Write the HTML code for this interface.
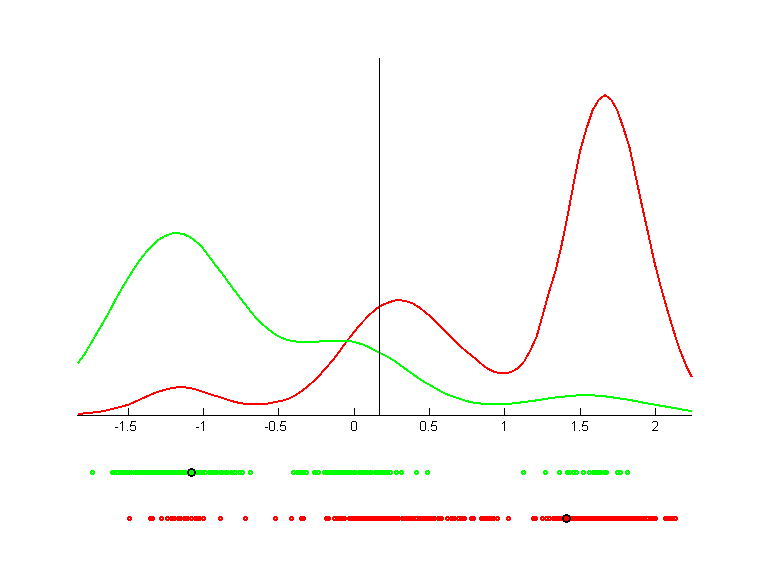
<!DOCTYPE html>
<html><head><meta charset="utf-8"><style>
html,body{margin:0;padding:0;background:#fff;}
body{width:768px;height:576px;overflow:hidden;}
svg{display:block;}
</style></head><body>
<svg width="768" height="576" viewBox="0 0 768 576" role="img" aria-label="Kernel density curves (green and red) with x-axis ticks -1.5, -1, -0.5, 0, 0.5, 1, 1.5, 2 and sample points below">
<rect width="768" height="576" fill="#fff"/>
<path d="M77.80 413.77 L84.00 413.47 L90.20 412.85 L96.41 412.11 L102.61 411.26 L108.81 409.82 L115.01 408.24 L121.21 406.67 L127.42 405.03 L133.62 402.53 L139.82 399.50 L146.02 396.78 L152.22 394.00 L158.43 391.69 L164.63 389.86 L170.83 388.37 L177.03 387.36 L183.23 387.20 L189.44 387.96 L195.64 389.27 L201.84 391.42 L208.04 393.51 L214.24 395.50 L220.45 397.31 L226.65 399.42 L232.85 401.33 L239.05 402.89 L245.25 403.90 L251.46 404.36 L257.66 404.42 L263.86 404.22 L270.06 403.13 L276.26 401.95 L282.47 400.58 L288.67 398.54 L294.87 395.52 L301.07 391.40 L307.27 386.89 L313.48 381.20 L319.68 375.11 L325.88 367.91 L332.08 361.19 L338.28 353.08 L344.49 344.35 L350.69 336.34 L356.89 328.51 L363.09 321.40 L369.29 315.07 L375.50 309.30 L381.70 305.36 L387.90 302.67 L394.10 300.61 L400.31 300.15 L406.51 301.24 L412.71 303.30 L418.91 307.23 L425.11 312.02 L431.32 317.36 L437.52 323.17 L443.72 329.42 L449.92 335.52 L456.12 342.01 L462.33 348.01 L468.53 353.18 L474.73 358.16 L480.93 363.56 L487.13 368.31 L493.34 371.53 L499.54 373.08 L505.74 373.40 L511.94 371.55 L518.14 368.03 L524.35 361.11 L530.55 349.99 L536.75 336.23 L542.95 314.09 L549.15 291.74 L555.36 271.57 L561.56 245.31 L567.76 214.67 L573.96 182.05 L580.16 150.85 L586.37 128.76 L592.57 110.39 L598.77 99.72 L604.97 95.21 L611.17 99.48 L617.38 110.57 L623.58 128.40 L629.78 148.36 L635.98 177.89 L642.18 206.56 L648.39 234.54 L654.59 262.88 L660.79 286.77 L666.99 308.68 L673.19 329.41 L679.40 348.83 L685.60 364.40 L691.80 377.30" fill="none" stroke="#ff0000" stroke-width="2" stroke-linejoin="round" shape-rendering="crispEdges"/>
<path d="M77.80 363.18 L84.00 355.10 L90.20 344.69 L96.41 333.88 L102.61 323.61 L108.81 312.58 L115.01 300.66 L121.21 289.60 L127.42 279.32 L133.62 269.33 L139.82 260.12 L146.02 252.25 L152.22 245.43 L158.43 239.74 L164.63 236.21 L170.83 233.66 L177.03 233.00 L183.23 234.06 L189.44 236.67 L195.64 241.12 L201.84 246.94 L208.04 254.90 L214.24 263.58 L220.45 271.34 L226.65 279.64 L232.85 288.36 L239.05 296.34 L245.25 304.49 L251.46 312.64 L257.66 319.56 L263.86 325.45 L270.06 330.61 L276.26 335.16 L282.47 338.20 L288.67 340.35 L294.87 341.41 L301.07 341.92 L307.27 341.99 L313.48 341.74 L319.68 341.46 L325.88 341.09 L332.08 340.78 L338.28 340.80 L344.49 340.68 L350.69 341.25 L356.89 342.73 L363.09 344.54 L369.29 347.39 L375.50 350.84 L381.70 353.73 L387.90 356.89 L394.10 360.65 L400.31 365.29 L406.51 369.73 L412.71 374.08 L418.91 378.32 L425.11 382.46 L431.32 385.89 L437.52 389.46 L443.72 392.99 L449.92 395.40 L456.12 397.63 L462.33 399.70 L468.53 401.51 L474.73 402.80 L480.93 403.55 L487.13 403.99 L493.34 404.21 L499.54 404.22 L505.74 404.00 L511.94 403.54 L518.14 402.87 L524.35 401.93 L530.55 401.18 L536.75 400.34 L542.95 399.31 L549.15 398.34 L555.36 397.51 L561.56 396.91 L567.76 396.23 L573.96 395.61 L580.16 395.31 L586.37 395.20 L592.57 395.37 L598.77 395.73 L604.97 396.30 L611.17 397.15 L617.38 398.11 L623.58 399.02 L629.78 399.99 L635.98 401.16 L642.18 402.43 L648.39 403.58 L654.59 404.67 L660.79 405.73 L666.99 406.76 L673.19 407.86 L679.40 409.02 L685.60 410.13 L691.80 411.00" fill="none" stroke="#00ff00" stroke-width="2" stroke-linejoin="round" shape-rendering="crispEdges"/>
<path d="M77 415h615v1h-615zM128 408h1v7h-1zM203 408h1v7h-1zM278 408h1v7h-1zM354 408h1v7h-1zM429 408h1v7h-1zM504 408h1v7h-1zM580 408h1v7h-1zM655 408h1v7h-1zM379 58h1v358h-1z" fill="#000" shape-rendering="crispEdges"/>
<path d="M122 421h1v1h-1zM131 421h5v1h-5zM203 421h1v1h-1zM270 421h4v1h-4zM281 421h5v1h-5zM352 421h4v1h-4zM421 421h4v1h-4zM432 421h5v1h-5zM504 421h1v1h-1zM574 421h1v1h-1zM583 421h5v1h-5zM653 421h4v1h-4zM121 422h2v1h-2zM131 422h1v1h-1zM202 422h2v1h-2zM269 422h1v1h-1zM274 422h1v1h-1zM281 422h1v1h-1zM351 422h1v1h-1zM356 422h1v1h-1zM420 422h1v1h-1zM425 422h1v1h-1zM432 422h1v1h-1zM503 422h2v1h-2zM573 422h2v1h-2zM583 422h1v1h-1zM652 422h1v1h-1zM657 422h1v1h-1zM120 423h1v1h-1zM122 423h1v1h-1zM131 423h1v1h-1zM201 423h1v1h-1zM203 423h1v1h-1zM269 423h1v1h-1zM274 423h1v1h-1zM281 423h1v1h-1zM351 423h1v1h-1zM356 423h1v1h-1zM420 423h1v1h-1zM425 423h1v1h-1zM432 423h1v1h-1zM502 423h1v1h-1zM504 423h1v1h-1zM572 423h1v1h-1zM574 423h1v1h-1zM583 423h1v1h-1zM657 423h1v1h-1zM122 424h1v1h-1zM130 424h1v1h-1zM203 424h1v1h-1zM269 424h1v1h-1zM274 424h1v1h-1zM280 424h1v1h-1zM351 424h1v1h-1zM356 424h1v1h-1zM420 424h1v1h-1zM425 424h1v1h-1zM431 424h1v1h-1zM504 424h1v1h-1zM574 424h1v1h-1zM582 424h1v1h-1zM657 424h1v1h-1zM122 425h1v1h-1zM130 425h5v1h-5zM203 425h1v1h-1zM269 425h1v1h-1zM274 425h1v1h-1zM280 425h5v1h-5zM351 425h1v1h-1zM356 425h1v1h-1zM420 425h1v1h-1zM425 425h1v1h-1zM431 425h5v1h-5zM504 425h1v1h-1zM574 425h1v1h-1zM582 425h5v1h-5zM657 425h1v1h-1zM122 426h1v1h-1zM130 426h1v1h-1zM135 426h1v1h-1zM203 426h1v1h-1zM269 426h1v1h-1zM274 426h1v1h-1zM280 426h1v1h-1zM285 426h1v1h-1zM351 426h1v1h-1zM356 426h1v1h-1zM420 426h1v1h-1zM425 426h1v1h-1zM431 426h1v1h-1zM436 426h1v1h-1zM504 426h1v1h-1zM574 426h1v1h-1zM582 426h1v1h-1zM587 426h1v1h-1zM656 426h1v1h-1zM115 427h3v1h-3zM122 427h1v1h-1zM135 427h1v1h-1zM196 427h3v1h-3zM203 427h1v1h-1zM265 427h3v1h-3zM269 427h1v1h-1zM274 427h1v1h-1zM285 427h1v1h-1zM351 427h1v1h-1zM356 427h1v1h-1zM420 427h1v1h-1zM425 427h1v1h-1zM436 427h1v1h-1zM504 427h1v1h-1zM574 427h1v1h-1zM587 427h1v1h-1zM655 427h1v1h-1zM122 428h1v1h-1zM135 428h1v1h-1zM203 428h1v1h-1zM269 428h1v1h-1zM274 428h1v1h-1zM285 428h1v1h-1zM351 428h1v1h-1zM356 428h1v1h-1zM420 428h1v1h-1zM425 428h1v1h-1zM436 428h1v1h-1zM504 428h1v1h-1zM574 428h1v1h-1zM587 428h1v1h-1zM654 428h1v1h-1zM122 429h1v1h-1zM130 429h1v1h-1zM135 429h1v1h-1zM203 429h1v1h-1zM269 429h1v1h-1zM274 429h1v1h-1zM280 429h1v1h-1zM285 429h1v1h-1zM351 429h1v1h-1zM356 429h1v1h-1zM420 429h1v1h-1zM425 429h1v1h-1zM431 429h1v1h-1zM436 429h1v1h-1zM504 429h1v1h-1zM574 429h1v1h-1zM582 429h1v1h-1zM587 429h1v1h-1zM653 429h1v1h-1zM122 430h1v1h-1zM127 430h1v1h-1zM131 430h4v1h-4zM203 430h1v1h-1zM270 430h4v1h-4zM277 430h1v1h-1zM281 430h4v1h-4zM352 430h4v1h-4zM421 430h4v1h-4zM428 430h1v1h-1zM432 430h4v1h-4zM504 430h1v1h-1zM574 430h1v1h-1zM579 430h1v1h-1zM583 430h4v1h-4zM652 430h6v1h-6z" fill="#000" shape-rendering="crispEdges"/>
<path d="M91 470h3v1h-3zM111 470h21v1h-21zM133 470h55v1h-55zM190 470h3v1h-3zM195 470h12v1h-12zM208 470h10v1h-10zM219 470h10v1h-10zM230 470h7v1h-7zM238 470h6v1h-6zM249 470h3v1h-3zM292 470h3v1h-3zM296 470h12v1h-12zM313 470h7v1h-7zM323 470h34v1h-34zM358 470h15v1h-15zM374 470h18v1h-18zM395 470h3v1h-3zM400 470h3v1h-3zM415 470h3v1h-3zM426 470h3v1h-3zM522 470h3v1h-3zM544 470h3v1h-3zM558 470h3v1h-3zM566 470h5v1h-5zM572 470h6v1h-6zM582 470h3v1h-3zM588 470h3v1h-3zM592 470h10v1h-10zM603 470h5v1h-5zM616 470h6v1h-6zM626 470h3v1h-3zM90 471h5v1h-5zM110 471h77v1h-77zM189 471h5v1h-5zM196 471h49v1h-49zM248 471h5v1h-5zM291 471h18v1h-18zM312 471h9v1h-9zM322 471h71v1h-71zM394 471h10v1h-10zM414 471h5v1h-5zM425 471h5v1h-5zM521 471h5v1h-5zM543 471h5v1h-5zM557 471h5v1h-5zM565 471h14v1h-14zM581 471h5v1h-5zM587 471h22v1h-22zM615 471h8v1h-8zM625 471h5v1h-5zM90 472h2v1h-2zM93 472h2v1h-2zM110 472h7v1h-7zM118 472h69v1h-69zM189 472h5v1h-5zM196 472h9v1h-9zM206 472h29v1h-29zM236 472h3v1h-3zM240 472h2v1h-2zM243 472h2v1h-2zM248 472h2v1h-2zM251 472h2v1h-2zM291 472h2v1h-2zM294 472h12v1h-12zM307 472h2v1h-2zM312 472h6v1h-6zM319 472h2v1h-2zM322 472h68v1h-68zM391 472h2v1h-2zM394 472h2v1h-2zM397 472h4v1h-4zM402 472h2v1h-2zM414 472h2v1h-2zM417 472h2v1h-2zM425 472h2v1h-2zM428 472h2v1h-2zM521 472h2v1h-2zM524 472h2v1h-2zM543 472h2v1h-2zM546 472h2v1h-2zM557 472h2v1h-2zM560 472h2v1h-2zM565 472h8v1h-8zM574 472h2v1h-2zM577 472h2v1h-2zM581 472h2v1h-2zM584 472h2v1h-2zM587 472h2v1h-2zM590 472h19v1h-19zM615 472h2v1h-2zM618 472h2v1h-2zM621 472h2v1h-2zM625 472h2v1h-2zM628 472h2v1h-2zM90 473h5v1h-5zM110 473h77v1h-77zM189 473h5v1h-5zM196 473h49v1h-49zM248 473h5v1h-5zM291 473h18v1h-18zM312 473h9v1h-9zM322 473h71v1h-71zM394 473h10v1h-10zM414 473h5v1h-5zM425 473h5v1h-5zM521 473h5v1h-5zM543 473h5v1h-5zM557 473h5v1h-5zM565 473h14v1h-14zM581 473h5v1h-5zM587 473h22v1h-22zM615 473h8v1h-8zM625 473h5v1h-5zM91 474h3v1h-3zM111 474h21v1h-21zM133 474h55v1h-55zM190 474h3v1h-3zM195 474h12v1h-12zM208 474h10v1h-10zM219 474h10v1h-10zM230 474h7v1h-7zM238 474h6v1h-6zM249 474h3v1h-3zM292 474h3v1h-3zM296 474h12v1h-12zM313 474h7v1h-7zM323 474h34v1h-34zM358 474h15v1h-15zM374 474h18v1h-18zM395 474h3v1h-3zM400 474h3v1h-3zM415 474h3v1h-3zM426 474h3v1h-3zM522 474h3v1h-3zM544 474h3v1h-3zM558 474h3v1h-3zM566 474h5v1h-5zM572 474h6v1h-6zM582 474h3v1h-3zM588 474h3v1h-3zM592 474h10v1h-10zM603 474h5v1h-5zM616 474h6v1h-6zM626 474h3v1h-3z" fill="#00ff00" shape-rendering="crispEdges"/>
<path d="M128 516h3v1h-3zM149 516h5v1h-5zM160 516h3v1h-3zM166 516h3v1h-3zM170 516h6v1h-6zM177 516h5v1h-5zM183 516h6v1h-6zM190 516h3v1h-3zM194 516h7v1h-7zM202 516h3v1h-3zM219 516h3v1h-3zM244 516h3v1h-3zM274 516h3v1h-3zM290 516h3v1h-3zM300 516h5v1h-5zM325 516h5v1h-5zM333 516h13v1h-13zM348 516h52v1h-52zM401 516h35v1h-35zM437 516h6v1h-6zM446 516h3v1h-3zM450 516h6v1h-6zM457 516h9v1h-9zM470 516h5v1h-5zM480 516h15v1h-15zM496 516h3v1h-3zM507 516h3v1h-3zM532 516h5v1h-5zM541 516h3v1h-3zM545 516h6v1h-6zM552 516h11v1h-11zM565 516h3v1h-3zM570 516h87v1h-87zM664 516h13v1h-13zM127 517h5v1h-5zM148 517h7v1h-7zM159 517h5v1h-5zM165 517h41v1h-41zM218 517h5v1h-5zM243 517h5v1h-5zM273 517h5v1h-5zM289 517h5v1h-5zM299 517h7v1h-7zM324 517h7v1h-7zM332 517h112v1h-112zM445 517h22v1h-22zM469 517h7v1h-7zM479 517h21v1h-21zM506 517h5v1h-5zM531 517h7v1h-7zM540 517h22v1h-22zM564 517h5v1h-5zM571 517h87v1h-87zM663 517h15v1h-15zM127 518h2v1h-2zM130 518h2v1h-2zM148 518h7v1h-7zM159 518h2v1h-2zM162 518h2v1h-2zM165 518h2v1h-2zM168 518h23v1h-23zM192 518h11v1h-11zM204 518h2v1h-2zM218 518h2v1h-2zM221 518h2v1h-2zM243 518h2v1h-2zM246 518h2v1h-2zM273 518h2v1h-2zM276 518h2v1h-2zM289 518h2v1h-2zM292 518h2v1h-2zM299 518h7v1h-7zM324 518h7v1h-7zM332 518h2v1h-2zM335 518h81v1h-81zM417 518h27v1h-27zM445 518h2v1h-2zM448 518h10v1h-10zM459 518h8v1h-8zM469 518h7v1h-7zM479 518h18v1h-18zM498 518h2v1h-2zM506 518h2v1h-2zM509 518h2v1h-2zM531 518h7v1h-7zM540 518h2v1h-2zM543 518h3v1h-3zM547 518h2v1h-2zM550 518h12v1h-12zM564 518h5v1h-5zM571 518h76v1h-76zM648 518h10v1h-10zM663 518h12v1h-12zM676 518h2v1h-2zM127 519h5v1h-5zM148 519h7v1h-7zM159 519h5v1h-5zM165 519h41v1h-41zM218 519h5v1h-5zM243 519h5v1h-5zM273 519h5v1h-5zM289 519h5v1h-5zM299 519h7v1h-7zM324 519h7v1h-7zM332 519h112v1h-112zM445 519h22v1h-22zM469 519h7v1h-7zM479 519h21v1h-21zM506 519h5v1h-5zM531 519h7v1h-7zM540 519h22v1h-22zM564 519h5v1h-5zM571 519h87v1h-87zM663 519h15v1h-15zM128 520h3v1h-3zM149 520h5v1h-5zM160 520h3v1h-3zM166 520h3v1h-3zM170 520h6v1h-6zM177 520h5v1h-5zM183 520h6v1h-6zM190 520h3v1h-3zM194 520h7v1h-7zM202 520h3v1h-3zM219 520h3v1h-3zM244 520h3v1h-3zM274 520h3v1h-3zM290 520h3v1h-3zM300 520h5v1h-5zM325 520h5v1h-5zM333 520h13v1h-13zM348 520h52v1h-52zM401 520h35v1h-35zM437 520h6v1h-6zM446 520h3v1h-3zM450 520h6v1h-6zM457 520h9v1h-9zM470 520h5v1h-5zM480 520h15v1h-15zM496 520h3v1h-3zM507 520h3v1h-3zM532 520h5v1h-5zM541 520h3v1h-3zM545 520h6v1h-6zM552 520h11v1h-11zM565 520h3v1h-3zM570 520h87v1h-87zM664 520h13v1h-13z" fill="#ff0000" shape-rendering="crispEdges"/>
<path d="M190 468h3v1h-3zM188 469h7v1h-7zM188 470h2v1h-2zM193 470h2v1h-2zM187 471h2v1h-2zM194 471h2v1h-2zM187 472h2v1h-2zM194 472h2v1h-2zM187 473h2v1h-2zM194 473h2v1h-2zM188 474h2v1h-2zM193 474h2v1h-2zM188 475h7v1h-7zM190 476h3v1h-3zM565 514h3v1h-3zM563 515h7v1h-7zM563 516h2v1h-2zM568 516h2v1h-2zM562 517h2v1h-2zM569 517h2v1h-2zM562 518h2v1h-2zM569 518h2v1h-2zM562 519h2v1h-2zM569 519h2v1h-2zM563 520h2v1h-2zM568 520h2v1h-2zM563 521h7v1h-7zM565 522h3v1h-3z" fill="#000" shape-rendering="crispEdges"/>
</svg>
</body></html>
